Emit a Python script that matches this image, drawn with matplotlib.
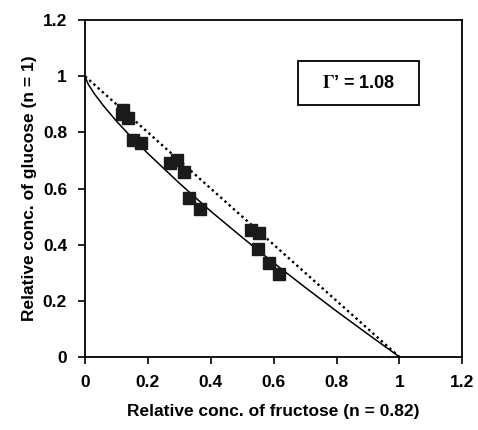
import matplotlib
matplotlib.use('Agg')
import matplotlib.pyplot as plt
from matplotlib.patches import Rectangle

# Measured points (relative concentrations)
fru_pts = [0.117, 0.120, 0.138, 0.154, 0.177, 0.271, 0.292, 0.315, 0.332,
           0.366, 0.529, 0.554, 0.550, 0.584, 0.616]
glu_pts = [0.867, 0.881, 0.853, 0.772, 0.763, 0.692, 0.703, 0.660, 0.567,
           0.526, 0.452, 0.442, 0.383, 0.333, 0.294]

# Fitted curve
fit_x = [0.0, 0.005, 0.01, 0.03, 0.06, 0.10, 0.15, 0.20, 0.30, 0.40, 0.50,
         0.60, 0.70, 0.80, 0.90, 1.0]
fit_y = [1.0, 0.985, 0.972, 0.937, 0.893, 0.840, 0.780, 0.725, 0.619, 0.519,
         0.426, 0.335, 0.248, 0.163, 0.081, 0.0]

# Ideal (Gamma' = 1) diagonal
diag_x = [0.0, 1.0]
diag_y = [1.0, 0.0]

gamma_text = "$\\Gamma$\u2019 = 1.08"

plt.rcParams['font.family'] = ['Liberation Sans', 'DejaVu Sans']
plt.rcParams['font.weight'] = 'bold'
plt.rcParams['mathtext.fontset'] = 'stix'

fig = plt.figure(figsize=(4.78, 4.30), dpi=100)
ax = fig.add_axes([0.178, 0.170, 0.789, 0.783])

ax.plot(diag_x, diag_y, color='black', linestyle=(0, (1, 1.4)), linewidth=1.7)
ax.plot(fit_x, fit_y, color='black', linewidth=1.1)
ax.plot(fru_pts, glu_pts, linestyle='none', marker='s', markersize=8.5,
        color='#1a1a1a', markeredgecolor='#1a1a1a')

ax.set_xlim(0, 1.2)
ax.set_ylim(0, 1.2)
ticks = [0, 0.2, 0.4, 0.6, 0.8, 1.0, 1.2]
ticklabels = ['0', '0.2', '0.4', '0.6', '0.8', '1', '1.2']
ax.set_xticks(ticks)
ax.set_xticklabels(ticklabels)
ax.set_yticks(ticks)
ax.set_yticklabels(ticklabels)
ax.tick_params(direction='out', length=5, width=1.2, labelsize=12.5, pad=8)
for s in ax.spines.values():
  s.set_linewidth(1.3)

ax.set_xlabel('Relative conc. of fructose (n = 0.82)', fontsize=12.5,
              fontweight='bold', labelpad=10)
ax.set_ylabel('Relative conc. of glucose (n = 1)', fontsize=12.5,
              fontweight='bold', labelpad=4)

# Gamma box
ax.add_patch(Rectangle((0.679, 0.897), 0.382, 0.157, facecolor='white',
                       edgecolor='black', linewidth=1.3, zorder=3))
ax.text(0.87, 0.975, gamma_text, ha='center', va='center', fontsize=13,
        fontweight='bold', zorder=4)

fig.savefig('out.png', dpi=100)
